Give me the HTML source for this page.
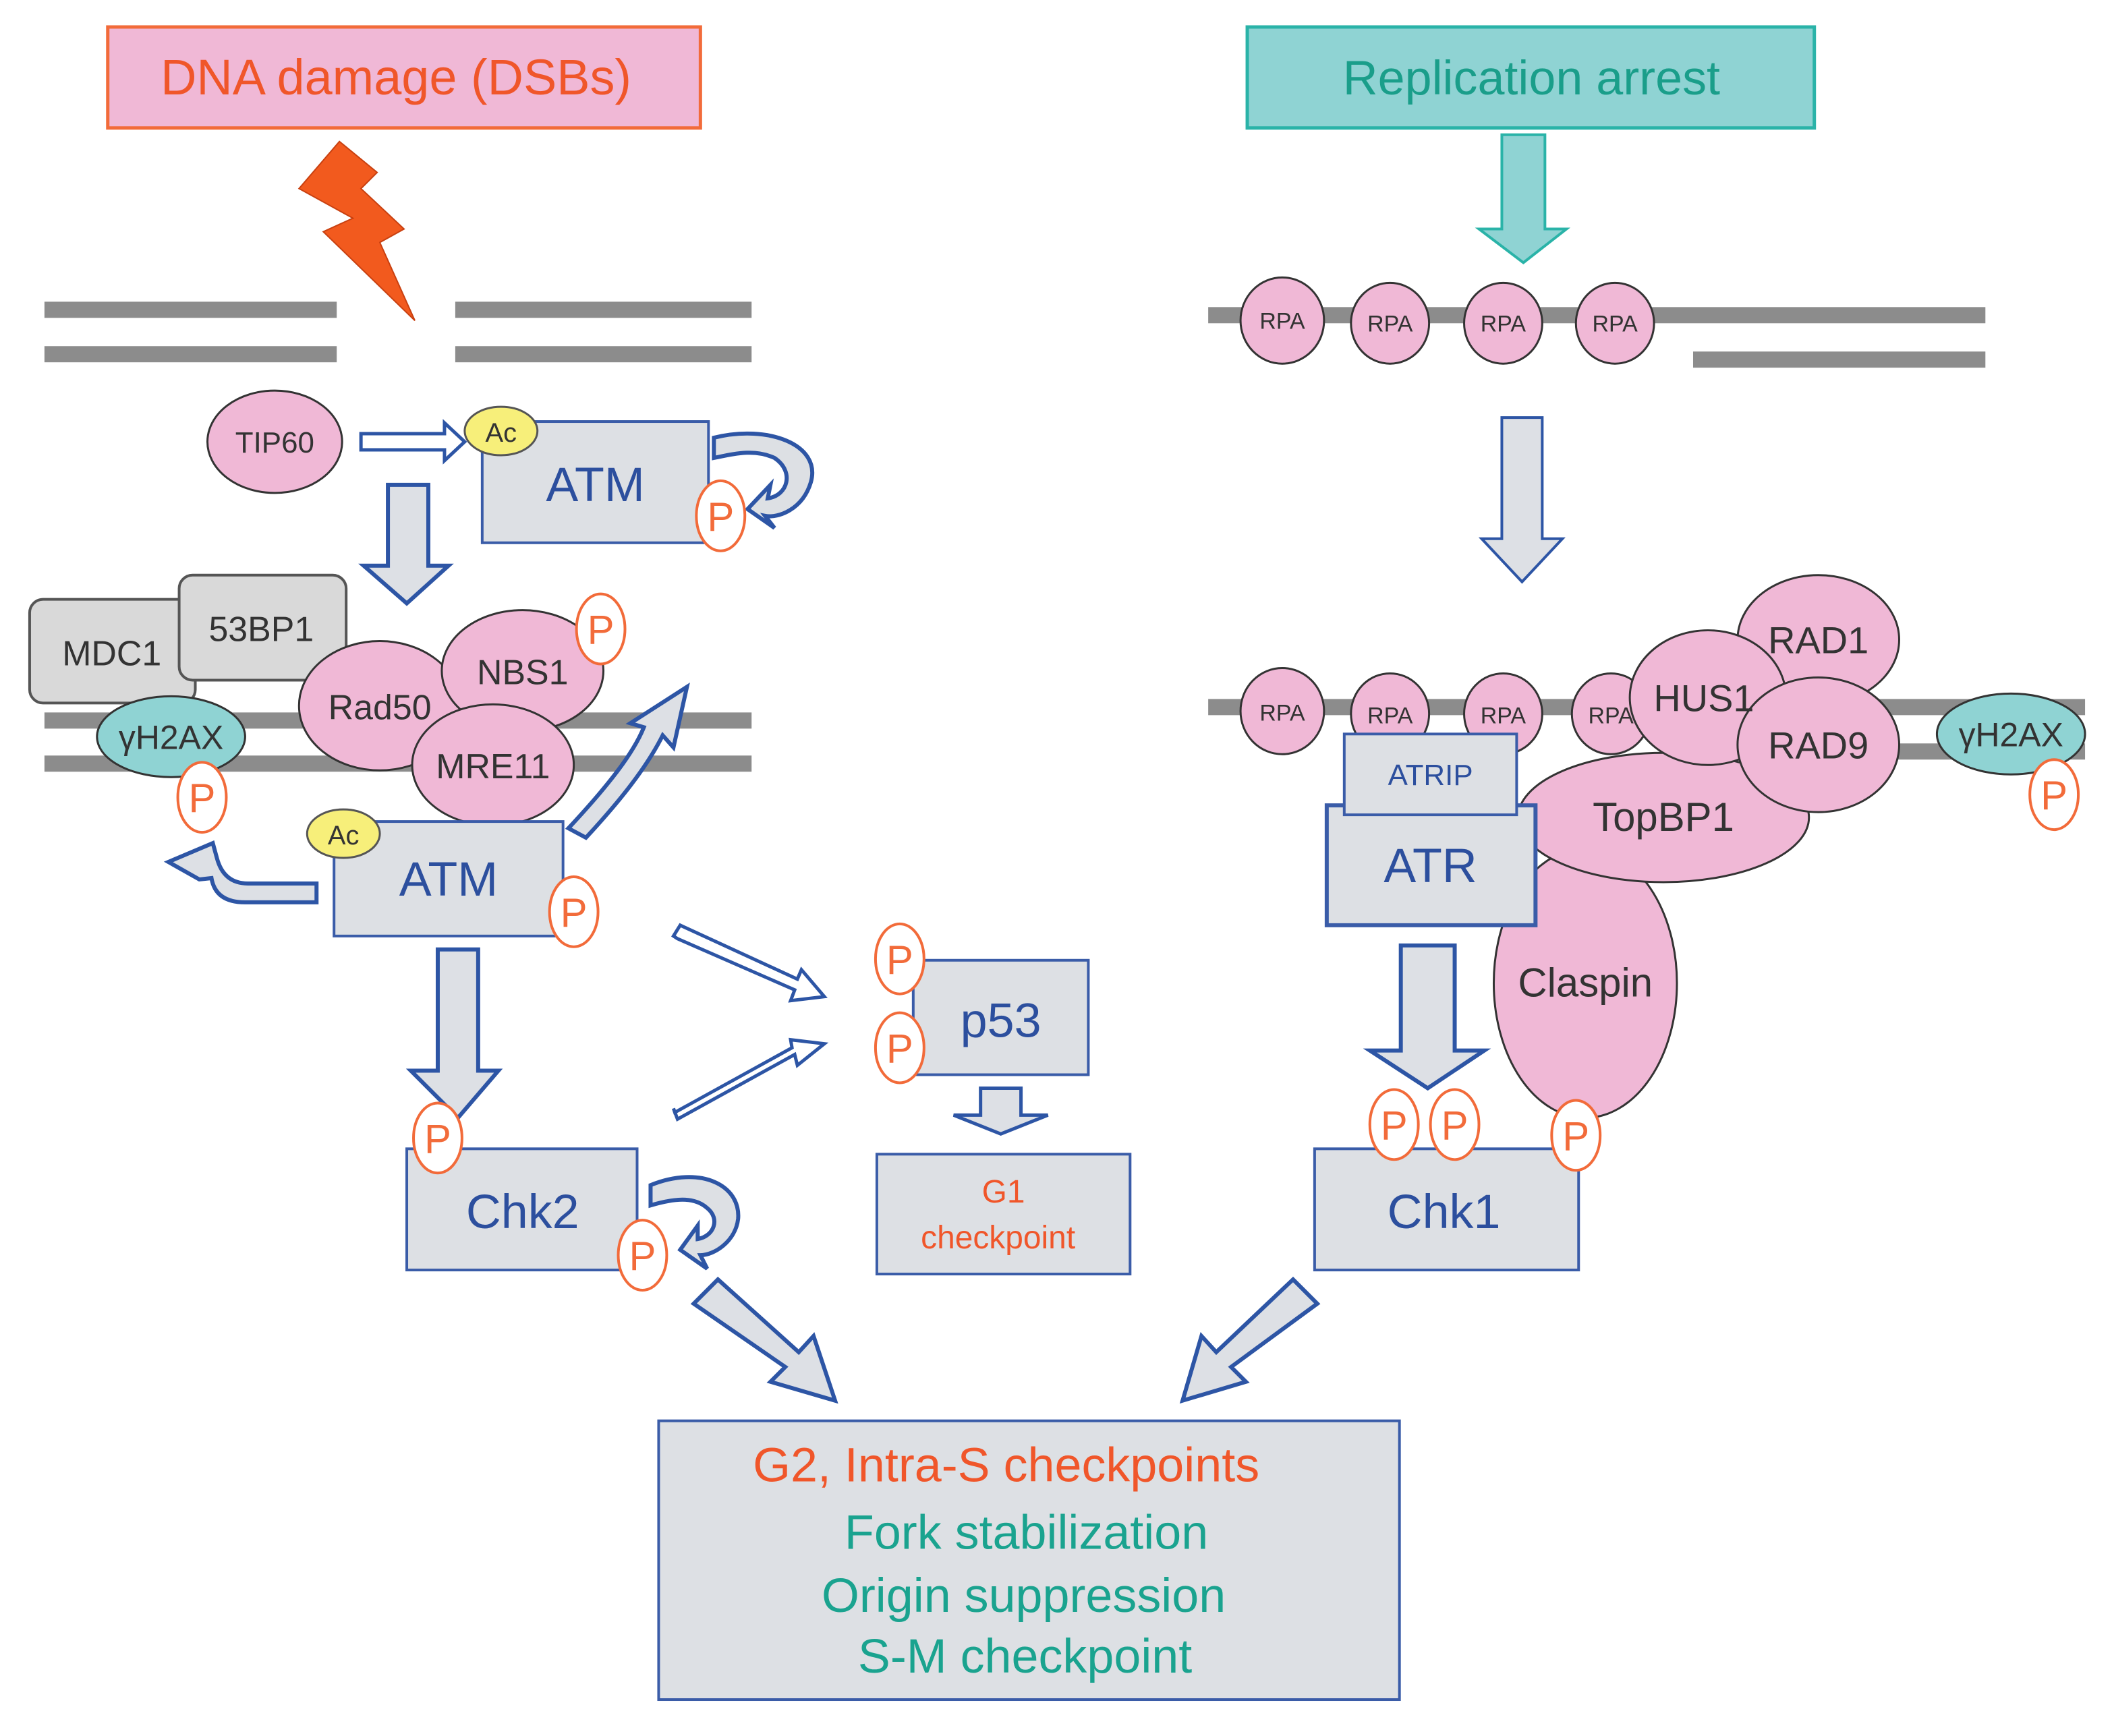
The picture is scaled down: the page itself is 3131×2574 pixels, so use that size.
<!DOCTYPE html>
<html><head><meta charset="utf-8">
<style>html,body{margin:0;padding:0;background:#fff}svg{display:block}</style>
</head><body>
<svg width="3131" height="2574" viewBox="0 0 1568 1289" xmlns="http://www.w3.org/2000/svg" font-family="Liberation Sans, sans-serif">
<defs>
<g id="P"><ellipse cx="0" cy="0" rx="18" ry="26" fill="#fff" stroke="#f26b3a" stroke-width="2"/><text x="0" y="11" font-size="30" fill="#f26b3a" text-anchor="middle">P</text></g>
</defs>
<rect x="80" y="20" width="440" height="75" fill="#f0b8d6" stroke="#f26b3a" stroke-width="2.5"/>
<text x="294" y="70" font-size="37" fill="#f0562a" text-anchor="middle">DNA damage (DSBs)</text>
<rect x="926" y="20" width="421" height="75" fill="#8fd3d3" stroke="#2ab3a8" stroke-width="2.5"/>
<text x="1137" y="70" font-size="36" fill="#1a9e8a" text-anchor="middle">Replication arrest</text>
<polygon points="252,105 222,140 262,162 240,172 308,238 282,180 300,170 268,140 280,128" fill="#f25a1e" stroke="#c84010" stroke-width="1"/>
<g fill="#8c8c8c">
<rect x="33" y="224" width="217" height="12"/><rect x="33" y="257" width="217" height="12"/>
<rect x="338" y="224" width="220" height="12"/><rect x="338" y="257" width="220" height="12"/>
<rect x="897" y="228" width="577" height="12"/><rect x="1257" y="261" width="217" height="12"/>
<rect x="33" y="529" width="525" height="12"/><rect x="33" y="561" width="525" height="12"/>
<rect x="897" y="519" width="651" height="12"/><rect x="1300" y="552" width="248" height="12"/>
</g>
<polygon points="1115,100 1147,100 1147,170 1163,170 1131,195 1098,170 1115,170" fill="#8fd3d3" stroke="#2ab3a8" stroke-width="2"/>
<g fill="#f0b8d6" stroke="#333" stroke-width="1.5">
<ellipse cx="952" cy="238" rx="31" ry="32"/><ellipse cx="1032" cy="240" rx="29" ry="30"/><ellipse cx="1116" cy="240" rx="29" ry="30"/><ellipse cx="1199" cy="240" rx="29" ry="30"/>
</g>
<g font-size="17" fill="#333" text-anchor="middle">
<text x="952" y="244">RPA</text><text x="1032" y="246">RPA</text><text x="1116" y="246">RPA</text><text x="1199" y="246">RPA</text>
</g>
<polygon points="1115,310 1145,310 1145,400 1160,400 1130,432 1100,400 1115,400" fill="#dde0e5" stroke="#2d55a5" stroke-width="2"/>
<ellipse cx="204" cy="328" rx="50" ry="38" fill="#f0b8d6" stroke="#333" stroke-width="1.5"/>
<text x="204" y="336" font-size="22" fill="#333" text-anchor="middle">TIP60</text>
<polygon points="268,322 330,322 330,314 345,328 330,342 330,334 268,334" fill="#fff" stroke="#2d55a5" stroke-width="2.5"/>
<rect x="358" y="313" width="168" height="90" fill="#dde0e4" stroke="#3a5ca8" stroke-width="2"/>
<text x="442" y="372" font-size="36" fill="#2c4f9e" text-anchor="middle">ATM</text>
<ellipse cx="372" cy="320" rx="27" ry="18" fill="#f7ef7a" stroke="#555" stroke-width="1.5"/>
<text x="372" y="328" font-size="20" fill="#333" text-anchor="middle">Ac</text>
<path d="M530,325 C570,315 610,330 602,358 C596,378 578,385 568,383 L575,392 L555,378 L572,360 L570,370 C585,368 590,350 575,340 C560,333 545,337 530,340 Z" fill="#dde0e4" stroke="#2d55a5" stroke-width="3"/>
<use href="#P" x="535" y="383"/>
<polygon points="288,360 318,360 318,420 333,420 302,448 270,420 288,420" fill="#dde0e5" stroke="#2d55a5" stroke-width="3"/>
<rect x="22" y="445" width="123" height="77" rx="10" fill="#d9d9d9" stroke="#555" stroke-width="2"/>
<text x="83" y="494" font-size="26" fill="#333" text-anchor="middle">MDC1</text>
<rect x="133" y="427" width="124" height="78" rx="10" fill="#d9d9d9" stroke="#555" stroke-width="2"/>
<text x="194" y="476" font-size="26" fill="#333" text-anchor="middle">53BP1</text>
<ellipse cx="127" cy="547" rx="55" ry="30" fill="#8fd3d3" stroke="#333" stroke-width="1.5"/>
<text x="127" y="556" font-size="25" fill="#333" text-anchor="middle">γH2AX</text>
<use href="#P" x="150" y="592"/>
<g fill="#f0b8d6" stroke="#333" stroke-width="1.5">
<ellipse cx="282" cy="524" rx="60" ry="48"/><ellipse cx="388" cy="498" rx="60" ry="45"/><ellipse cx="366" cy="568" rx="60" ry="45"/>
</g>
<g font-size="26" fill="#333" text-anchor="middle">
<text x="282" y="534">Rad50</text><text x="388" y="508">NBS1</text><text x="366" y="578">MRE11</text>
</g>
<use href="#P" x="446" y="467"/>
<path d="M422,615 C450,585 470,560 478,540 L468,537 L510,510 L500,555 L492,546 C480,570 460,595 435,622 Z" fill="#dde0e5" stroke="#2d55a5" stroke-width="3"/>
<rect x="248" y="610" width="170" height="85" fill="#dde0e4" stroke="#3a5ca8" stroke-width="2"/>
<text x="333" y="665" font-size="36" fill="#2c4f9e" text-anchor="middle">ATM</text>
<ellipse cx="255" cy="619" rx="27" ry="18" fill="#f7ef7a" stroke="#555" stroke-width="1.5"/>
<text x="255" y="627" font-size="20" fill="#333" text-anchor="middle">Ac</text>
<use href="#P" x="426" y="677"/>
<path d="M235,670 L182,670 Q160,670 157,652 L148,653 L125,640 L158,626 L161,637 Q166,656 184,656 L235,656 Z" fill="#dde0e5" stroke="#2d55a5" stroke-width="3"/>
<polygon points="325,705 355,705 355,795 370,795 340,830 305,795 325,795" fill="#dde0e5" stroke="#2d55a5" stroke-width="3"/>
<rect x="302" y="853" width="171" height="90" fill="#dde0e4" stroke="#3a5ca8" stroke-width="2"/>
<text x="388" y="912" font-size="36" fill="#2c4f9e" text-anchor="middle">Chk2</text>
<use href="#P" x="325" y="845"/>
<path d="M483,880 C520,865 550,880 548,905 C546,922 530,932 520,932 L525,942 L505,928 L518,910 L518,920 C530,918 535,905 525,897 C515,888 500,890 483,895 Z" fill="#dde0e4" stroke="#2d55a5" stroke-width="3"/>
<use href="#P" x="477" y="932"/>
<polygon points="500,695 505,687 592,727 595,720 612,740 587,743 590,735 503,697" fill="#fff" stroke="#2d55a5" stroke-width="2.5"/>
<polygon points="500,823 503,831 590,783 592,791 612,775 587,772 588,778 501,826" fill="#fff" stroke="#2d55a5" stroke-width="2.5"/>
<rect x="678" y="713" width="130" height="85" fill="#dde0e4" stroke="#3a5ca8" stroke-width="2"/>
<text x="743" y="770" font-size="36" fill="#2c4f9e" text-anchor="middle">p53</text>
<use href="#P" x="668" y="712"/>
<use href="#P" x="668" y="778"/>
<polygon points="728,808 758,808 758,828 778,828 743,842 708,828 728,828" fill="#dde0e5" stroke="#2d55a5" stroke-width="2.5"/>
<rect x="651" y="857" width="188" height="89" fill="#dde0e4" stroke="#3a5ca8" stroke-width="2"/>
<text x="745" y="893" font-size="24" fill="#f0562a" text-anchor="middle">G1</text>
<text x="741" y="927" font-size="24" fill="#f0562a" text-anchor="middle">checkpoint</text>
<polygon points="515,968 533,950 593,1004 604,992 620,1040 572,1026 583,1015" fill="#dde0e5" stroke="#2d55a5" stroke-width="3"/>
<polygon points="978,968 960,950 903,1004 892,992 878,1040 925,1026 914,1015" fill="#dde0e5" stroke="#2d55a5" stroke-width="3"/>
<rect x="489" y="1055" width="550" height="207" fill="#dde0e4" stroke="#3a5ca8" stroke-width="2"/>
<g font-size="36" text-anchor="middle">
<text x="747" y="1100" fill="#f0562a">G2, Intra-S checkpoints</text>
<text x="762" y="1150" fill="#1aa38f">Fork stabilization</text>
<text x="760" y="1197" fill="#1aa38f">Origin suppression</text>
<text x="761" y="1242" fill="#1aa38f">S-M checkpoint</text>
</g>
<g fill="#f0b8d6" stroke="#333" stroke-width="1.5">
<ellipse cx="952" cy="528" rx="31" ry="32"/><ellipse cx="1032" cy="530" rx="29" ry="30"/><ellipse cx="1116" cy="530" rx="29" ry="30"/><ellipse cx="1196" cy="530" rx="29" ry="30"/>
</g>
<g font-size="17" fill="#333" text-anchor="middle">
<text x="952" y="535">RPA</text><text x="1032" y="537">RPA</text><text x="1116" y="537">RPA</text><text x="1196" y="537">RPA</text>
</g>
<ellipse cx="1177" cy="730" rx="68" ry="100" fill="#f0b8d6" stroke="#333" stroke-width="1.5"/>
<text x="1177" y="740" font-size="30" fill="#333" text-anchor="middle">Claspin</text>
<ellipse cx="1235" cy="607" rx="108" ry="48" fill="#f0b8d6" stroke="#333" stroke-width="1.5"/>
<text x="1235" y="617" font-size="30" fill="#333" text-anchor="middle">TopBP1</text>
<g fill="#f0b8d6" stroke="#333" stroke-width="1.5">
<ellipse cx="1350" cy="475" rx="60" ry="48"/><ellipse cx="1268" cy="518" rx="58" ry="50"/><ellipse cx="1350" cy="553" rx="60" ry="50"/>
</g>
<g font-size="28" fill="#333" text-anchor="middle">
<text x="1350" y="485">RAD1</text><text x="1265" y="528">HUS1</text><text x="1350" y="563">RAD9</text>
</g>
<ellipse cx="1493" cy="545" rx="55" ry="30" fill="#8fd3d3" stroke="#333" stroke-width="1.5"/>
<text x="1493" y="554" font-size="25" fill="#333" text-anchor="middle">γH2AX</text>
<use href="#P" x="1525" y="590"/>
<rect x="985" y="598" width="155" height="89" fill="#dde0e4" stroke="#3a5ca8" stroke-width="3"/>
<text x="1062" y="655" font-size="36" fill="#2c4f9e" text-anchor="middle">ATR</text>
<rect x="998" y="545" width="128" height="60" fill="#dde0e4" stroke="#3a5ca8" stroke-width="2"/>
<text x="1062" y="583" font-size="22" fill="#2c4f9e" text-anchor="middle">ATRIP</text>
<polygon points="1040,702 1080,702 1080,780 1102,780 1060,808 1017,780 1040,780" fill="#dde0e5" stroke="#2d55a5" stroke-width="3"/>
<rect x="976" y="853" width="196" height="90" fill="#dde0e4" stroke="#3a5ca8" stroke-width="2"/>
<text x="1072" y="912" font-size="36" fill="#2c4f9e" text-anchor="middle">Chk1</text>
<use href="#P" x="1035" y="835"/>
<use href="#P" x="1080" y="835"/>
<use href="#P" x="1170" y="843"/>
</svg>
</body></html>
